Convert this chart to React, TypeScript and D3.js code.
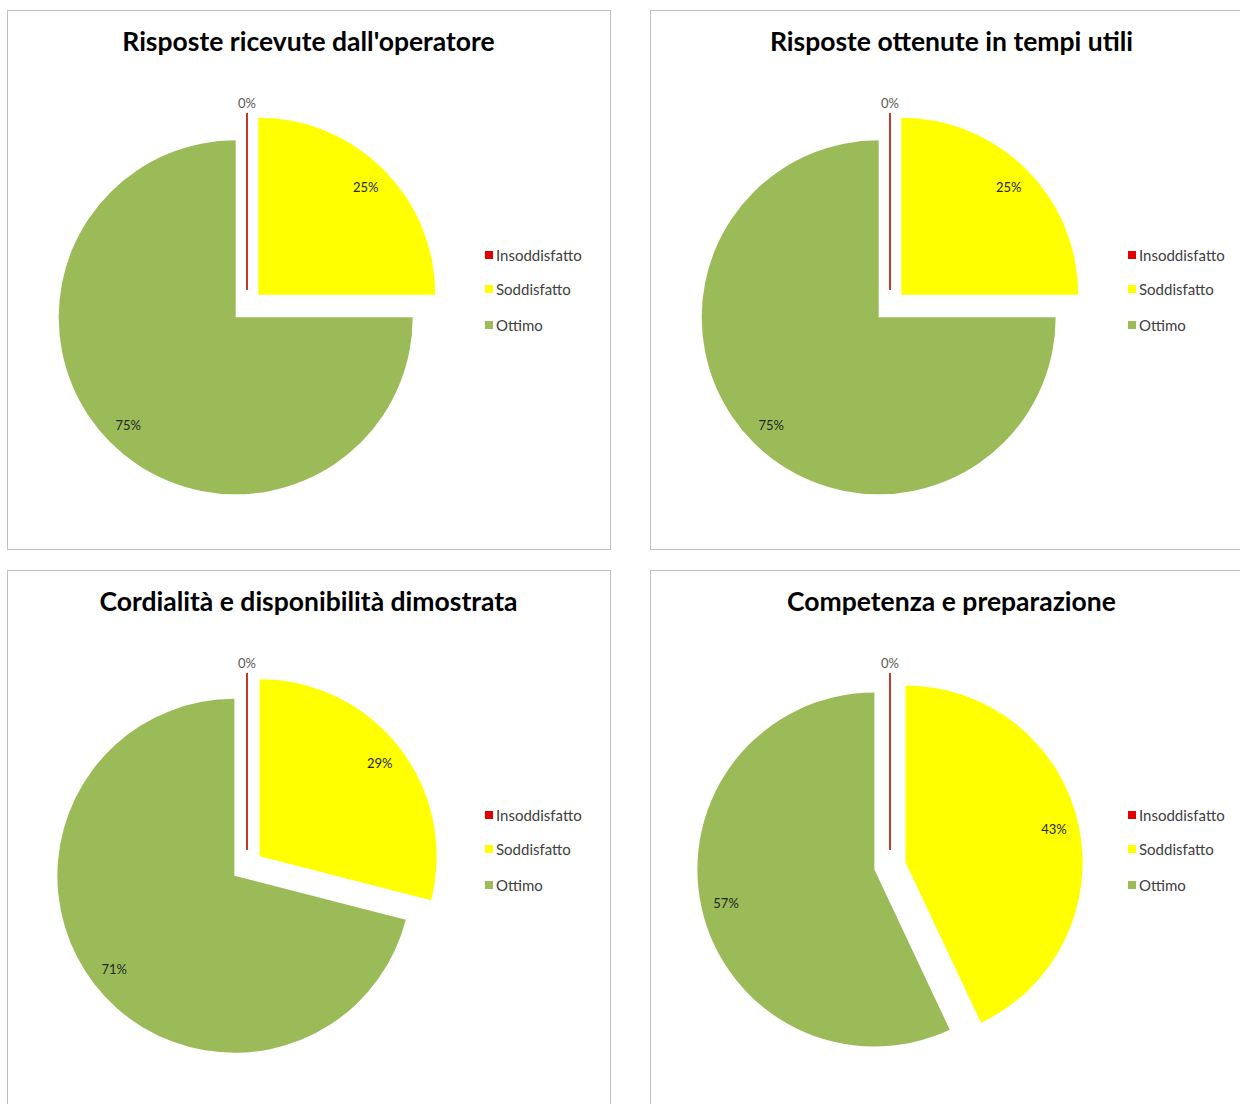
import React from "react";
import * as d3 from "d3";

const categories = ["Insoddisfatto", "Soddisfatto", "Ottimo"];
const colors = ["#E00000", "#FFFF00", "#9BBB59"];
const titles = [
  "Risposte ricevute dall'operatore",
  "Risposte ottenute in tempi utili",
  "Cordialità e disponibilità dimostrata",
  "Competenza e preparazione",
];
const valuesOperatore = [0, 25, 75];
const valuesTempi = [0, 25, 75];
const valuesCordialita = [0, 29, 71];
const valuesCompetenza = [0, 43, 57];
const seriesList = [valuesOperatore, valuesTempi, valuesCordialita, valuesCompetenza];

const panelOrigins = [
  [7, 10],
  [650, 10],
  [7, 570],
  [650, 570],
];
const PANEL_W = 603;
const PANEL_H = 539;
const R = 177;
const EXPLODE = 16;
const LABEL_R = 152;
const FONT = "Lato, 'Open Sans', 'DejaVu Sans', sans-serif";

function Panel({ title, values, x0, y0 }: { title: string; values: number[]; x0: number; y0: number }) {
  const pie = d3.pie<number>().sort(null).value((d) => d);
  const arcs = pie(values);
  const arcGen = d3.arc<d3.PieArcDatum<number>>().innerRadius(0).outerRadius(R);
  const cx = 240;
  const cy = 296;
  return (
    <g transform={`translate(${x0},${y0})`}>
      <rect x={0.5} y={0.5} width={PANEL_W} height={PANEL_H} fill="#fff" stroke="#bfbfbf" strokeWidth={1} />
      <text x={PANEL_W / 2} y={41} textAnchor="middle" fontFamily={FONT} fontWeight={700} fontSize={26.5} fill="#000">
        {title}
      </text>
      <g transform={`translate(${cx},${cy})`}>
        {arcs.map((a, i) => {
          const mid = (a.startAngle + a.endAngle) / 2;
          const ox = Math.sin(mid) * EXPLODE;
          const oy = -Math.cos(mid) * EXPLODE;
          const isZero = a.value === 0;
          const lr = isZero ? R + 10 : LABEL_R;
          const lx = ox + Math.sin(mid) * lr;
          const ly = oy - Math.cos(mid) * lr;
          return (
            <g key={i}>
              <g transform={`translate(${ox},${oy})`}>
                {isZero ? (
                  <line x1={0} y1={0} x2={0} y2={-R} stroke="#C0392B" strokeWidth={2} />
                ) : (
                  <path d={arcGen(a) || ""} fill={colors[i]} />
                )}
              </g>
              <text
                x={lx}
                y={ly}
                textAnchor="middle"
                dominantBaseline="central"
                fontFamily={FONT}
                fontSize={13}
                fill={isZero ? "#595959" : "#262626"}
              >
                {`${a.value}%`}
              </text>
            </g>
          );
        })}
      </g>
      <g transform={`translate(478,245)`}>
        {categories.map((c, i) => (
          <g key={c} transform={`translate(0,${[0, 34, 70][i]})`}>
            <rect x={0} y={-4} width={8} height={8} fill={colors[i]} />
            <text x={11} y={0} dominantBaseline="central" fontFamily={FONT} fontSize={15} fill="#404040">
              {c}
            </text>
          </g>
        ))}
      </g>
    </g>
  );
}

export default function App() {
  return (
    <svg width={1240} height={1104} style={{ position: "absolute", left: 0, top: 0, background: "#fff" }}>
      <rect width={1240} height={1104} fill="#fff" />
      {seriesList.map((vals, i) => (
        <Panel key={i} title={titles[i]} values={vals} x0={panelOrigins[i][0]} y0={panelOrigins[i][1]} />
      ))}
    </svg>
  );
}
